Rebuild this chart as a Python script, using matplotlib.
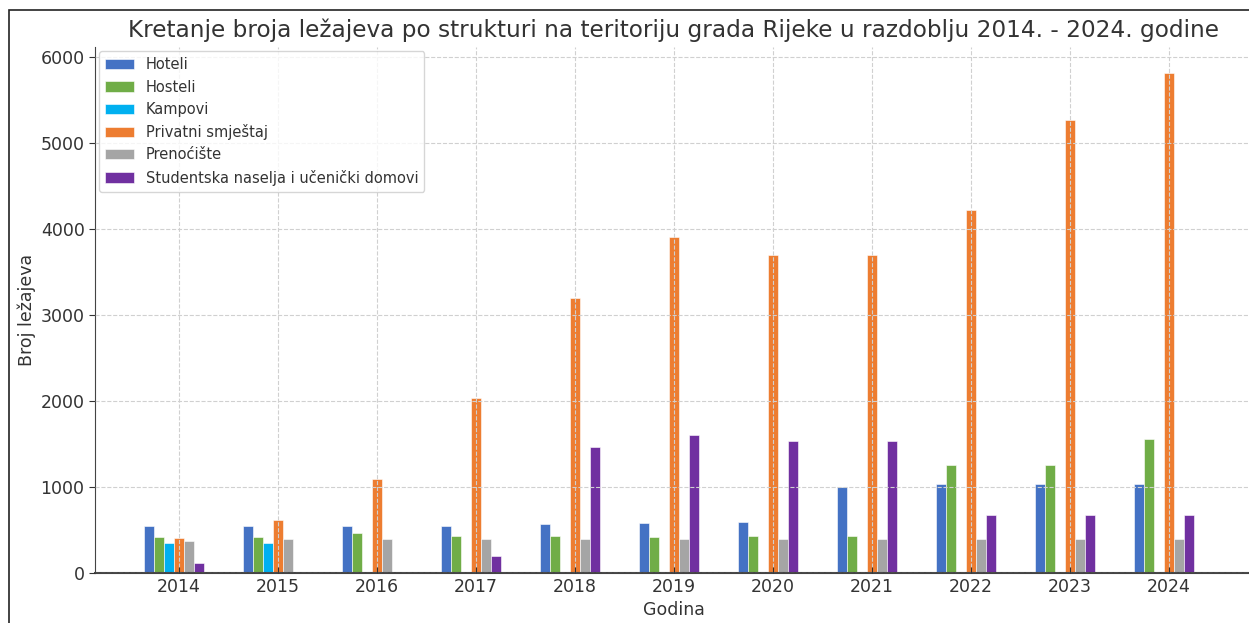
import numpy as np
import matplotlib.pyplot as plt
from matplotlib.patches import Rectangle

godine = [2014, 2015, 2016, 2017, 2018, 2019, 2020, 2021, 2022, 2023, 2024]
kategorije = ['Hoteli', 'Hosteli', 'Kampovi', 'Privatni smještaj', 'Prenoćište',
              'Studentska naselja i učenički domovi']

hoteli = [550, 550, 550, 550, 570, 580, 590, 1000, 1030, 1030, 1030]
hosteli = [420, 420, 460, 435, 430, 420, 430, 430, 1260, 1260, 1560]
kampovi = [350, 350, 0, 0, 0, 0, 0, 0, 0, 0, 0]
privatni = [405, 620, 1095, 2040, 3200, 3905, 3700, 3700, 4220, 5270, 5815]
prenociste = [375, 390, 390, 390, 390, 390, 390, 390, 390, 390, 390]
studentska = [115, 0, 0, 200, 1465, 1600, 1540, 1540, 680, 680, 680]

boje = ['#4472C4', '#70AD47', '#00B0F0', '#ED7D31', '#A5A5A5', '#7030A0']
serije = [hoteli, hosteli, kampovi, privatni, prenociste, studentska]

txt = '#333333'
plt.rcParams['text.color'] = txt
plt.rcParams['axes.labelcolor'] = txt
plt.rcParams['xtick.color'] = txt
plt.rcParams['ytick.color'] = txt

fig = plt.figure(figsize=(12.49, 6.23), dpi=100)
ax = fig.add_axes([95 / 1249, 1 - 573 / 623, 1158 / 1249, 526 / 623])

x = np.array(godine)
w = 0.1
for i, (vals, naziv) in enumerate(zip(serije, kategorije)):
    ax.bar(x + (i - 3) * w, vals, width=w, color=boje[i], label=naziv,
           edgecolor='white', linewidth=0.4)

ax.set_xticks(godine)
ax.set_xlim(2013.15, 2024.85)
ax.set_ylim(0, 6120)
ax.set_yticks([0, 1000, 2000, 3000, 4000, 5000, 6000])
ax.tick_params(axis='both', labelsize=12.5)
ax.tick_params(axis='x', direction='in', length=4)
ax.tick_params(axis='y', direction='out', length=4)

ax.grid(True, linestyle='--', color='#d0d0d0', linewidth=0.8)
ax.set_axisbelow(False)
for s in ['top', 'right']:
    ax.spines[s].set_visible(False)
for s in ['left', 'bottom']:
    ax.spines[s].set_color('#444444')
ax.spines['bottom'].set_linewidth(1.5)

ax.set_title('Kretanje broja ležajeva po strukturi na teritoriju grada Rijeke u razdoblju 2014. - 2024. godine',
             fontsize=16.7, pad=7, color=txt)
ax.set_xlabel('Godina', fontsize=12.5, labelpad=4)
ax.set_ylabel('Broj ležajeva', fontsize=12.5, labelpad=3)

leg = ax.legend(loc='upper left', fontsize=10.5, frameon=True, fancybox=True,
                bbox_to_anchor=(0.0, 1.0), borderaxespad=0.3, borderpad=0.4,
                handlelength=2.0, labelspacing=0.5)
leg.get_frame().set_edgecolor('#cccccc')

fig.patches.append(Rectangle((9 / 1249, -0.1), 1.2, 1 - 10 / 623 + 0.1,
                             transform=fig.transFigure, fill=False,
                             edgecolor='#222222', linewidth=1.2))

fig.savefig('out.png', dpi=100)
